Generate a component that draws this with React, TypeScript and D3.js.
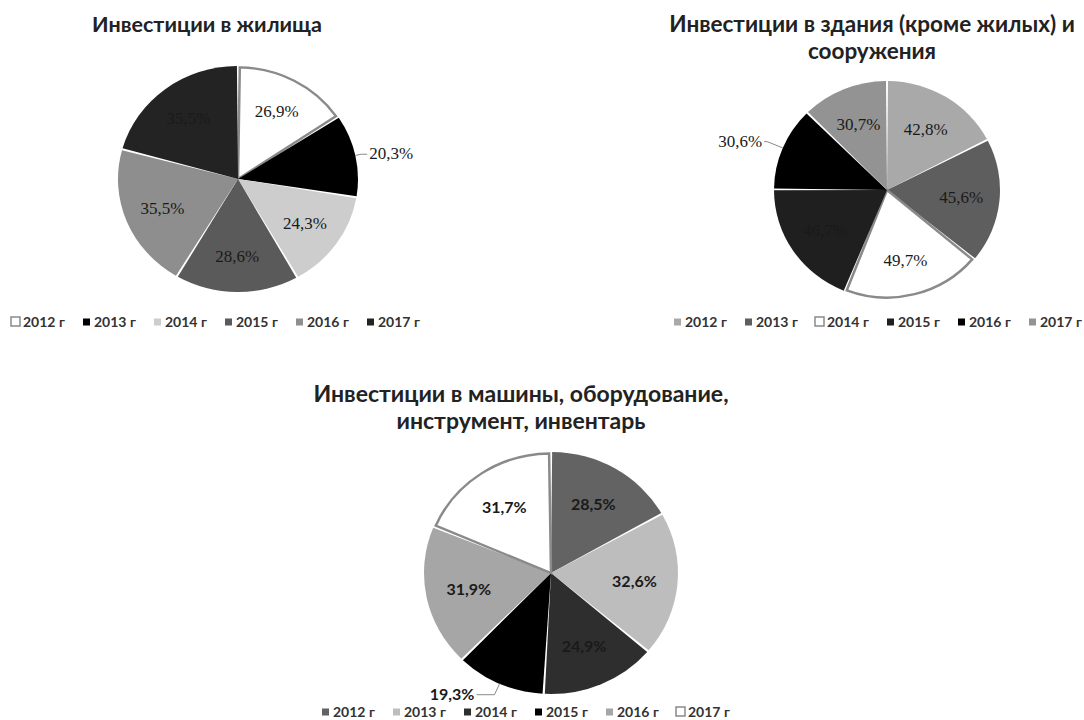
import React from 'react';
import * as d3 from 'd3';

// ---- DATA ----
const years = ['2012 г', '2013 г', '2014 г', '2015 г', '2016 г', '2017 г'];
const housingValues = [26.9, 20.3, 24.3, 28.6, 35.5, 35.5];
const buildingsValues = [42.8, 45.6, 49.7, 46.7, 30.6, 30.7];
const machineryValues = [28.5, 32.6, 24.9, 19.3, 31.9, 31.7];
const housingTitle = ['Инвестиции в жилища'];
const buildingsTitle = ['Инвестиции в здания (кроме жилых) и', 'сооружения'];
const machineryTitle = ['Инвестиции в машины, оборудование,', 'инструмент, инвентарь'];

const fmt = (v: number) => v.toFixed(1).replace('.', ',') + '%';

type ChartCfg = {
  values: number[];
  title: string[];
  colors: string[];
  cx: number; cy: number; rx: number; ry: number;
  titleX: number; titleY: number; titleSize: number;
  legendX: number; legendY: number;
  outside: number; outsideR: number; elbow: number;
  labelR: number;
  labelFont: string; labelWeight: number; labelSize: number;
};

const WHITE = '#ffffff';

const charts: ChartCfg[] = [
  {
    values: housingValues, title: housingTitle,
    colors: [WHITE, '#000000', '#cdcdcd', '#5a5a5a', '#8e8e8e', '#232323'],
    cx: 238, cy: 179, rx: 120, ry: 113,
    titleX: 207, titleY: 32, titleSize: 21.5, legendX: 12, legendY: 322,
    outside: 1, outsideR: 1.05, elbow: 6, labelR: 0.68,
    labelFont: '"Liberation Serif", "DejaVu Serif", serif', labelWeight: 400, labelSize: 17,
  },
  {
    values: buildingsValues, title: buildingsTitle,
    colors: ['#a9a9a9', '#5e5e5e', WHITE, '#1f1f1f', '#000000', '#939393'],
    cx: 887, cy: 190, rx: 113, ry: 109,
    titleX: 872, titleY: 32, titleSize: 22.5, legendX: 674, legendY: 322,
    outside: 4, outsideR: 1.15, elbow: 3, labelR: 0.66,
    labelFont: '"Liberation Serif", "DejaVu Serif", serif', labelWeight: 400, labelSize: 17,
  },
  {
    values: machineryValues, title: machineryTitle,
    colors: ['#636363', '#bdbdbd', '#2e2e2e', '#000000', '#a6a6a6', WHITE],
    cx: 551, cy: 573, rx: 127, ry: 121,
    titleX: 521, titleY: 402, titleSize: 23, legendX: 322, legendY: 712,
    outside: 3, outsideR: 1.1, elbow: 18, labelR: 0.66,
    labelFont: 'Lato, "Open Sans", sans-serif', labelWeight: 700, labelSize: 16,
  },
];

function Pie({ c }: { c: ChartCfg }) {
  const pie = d3.pie<number>().sort(null).value((d) => d);
  const arcs = pie(c.values);
  const k = c.ry / c.rx;
  const arcGen = d3.arc<d3.PieArcDatum<number>>()
    .innerRadius(0).outerRadius(c.rx).padAngle(0.018).padRadius(c.rx);
  const arcWhite = d3.arc<d3.PieArcDatum<number>>()
    .innerRadius(0).outerRadius(c.rx - 1.5).padAngle(0.03).padRadius(c.rx);
  const pt = (a: number, f: number): [number, number] => [
    c.cx + c.rx * f * Math.sin(a),
    c.cy - c.ry * f * Math.cos(a),
  ];
  return (
    <g>
      {c.title.map((t, i) => (
        <text key={i} x={c.titleX} y={c.titleY + i * 27} textAnchor="middle"
          fontFamily='Lato, "Open Sans", sans-serif' fontWeight={700} fontSize={c.titleSize} fill="#222">{t}</text>
      ))}
      <g transform={`translate(${c.cx},${c.cy}) scale(1,${k})`}>
        {arcs.map((a, i) => {
          const isWhite = c.colors[i] === WHITE;
          return (
            <path key={i} d={(isWhite ? arcWhite(a) : arcGen(a)) || ''}
              fill={c.colors[i]} stroke={isWhite ? '#8a8a8a' : 'none'} strokeWidth={isWhite ? 2.5 : 0} />
          );
        })}
      </g>
      {arcs.map((a, i) => {
        const mid = (a.startAngle + a.endAngle) / 2;
        if (i === c.outside) {
          const [ex, ey] = pt(mid, 1.0);
          const [ox, oy] = pt(mid, c.outsideR);
          const right = Math.sin(mid) > 0;
          const hx = ox + (right ? c.elbow : -c.elbow);
          return (
            <g key={i}>
              <polyline points={`${ex},${ey} ${ox},${oy} ${hx},${oy}`} fill="none" stroke="#8a8a8a" strokeWidth={1} />
              <text x={hx + (right ? 2 : -2)} y={oy + 5} textAnchor={right ? 'start' : 'end'}
                fontFamily={c.labelFont} fontWeight={c.labelWeight} fontSize={c.labelSize} fill="#1a1a1a">{fmt(a.data)}</text>
            </g>
          );
        }
        const [lx, ly] = pt(mid, c.labelR);
        return (
          <text key={i} x={lx} y={ly + 6} textAnchor="middle"
            fontFamily={c.labelFont} fontWeight={c.labelWeight} fontSize={c.labelSize} fill="#1a1a1a">{fmt(a.data)}</text>
        );
      })}
      {years.map((y, i) => {
        const x = c.legendX + i * 71;
        const isWhite = c.colors[i] === WHITE;
        return (
          <g key={i}>
            {isWhite ? (
              <rect x={x - 1} y={c.legendY - 5} width={9} height={9} fill="#fff" stroke="#8a8a8a" strokeWidth={1.5} />
            ) : (
              <rect x={x} y={c.legendY - 3.5} width={7} height={7} fill={c.colors[i]} />
            )}
            <text x={x + 11} y={c.legendY + 4.5} fontFamily='Lato, "Open Sans", sans-serif' fontWeight={700}
              fontSize={14} fill="#333">{y}</text>
          </g>
        );
      })}
    </g>
  );
}

export default function App() {
  return (
    <svg width={1084} height={720} style={{ position: 'absolute', left: 0, top: 0, background: '#fff' }}>
      <rect x={0} y={0} width={1084} height={720} fill="#fff" />
      {charts.map((c, i) => <Pie key={i} c={c} />)}
    </svg>
  );
}
